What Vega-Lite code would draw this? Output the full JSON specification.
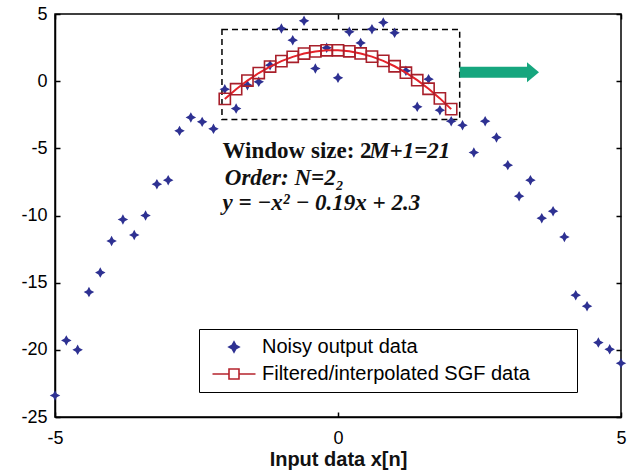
{
  "$schema": "https://vega.github.io/schema/vega-lite/v6.json",
  "width": 566,
  "height": 403,
  "autosize": {"type": "none"},
  "padding": {"left": 55, "top": 14, "right": 16, "bottom": 57},
  "background": "white",
  "config": {
    "view": {"stroke": "black", "strokeWidth": 1.5},
    "axis": {
      "grid": false,
      "domainColor": "black",
      "domainWidth": 1.5,
      "tickColor": "black",
      "tickWidth": 1.5,
      "tickSize": -5,
      "labelColor": "black",
      "labelFont": "Liberation Sans",
      "labelFontSize": 18,
      "labelFlush": false,
      "labelPadding": 13,
      "titleFont": "Liberation Sans",
      "titleFontSize": 20,
      "titleFontWeight": "bold",
      "titleColor": "#111111"
    }
  },
  "datasets": {
    "noisy": [
      {"x": -5.0, "y": -23.4}, {"x": -4.8, "y": -19.3}, {"x": -4.6, "y": -20.0},
      {"x": -4.4, "y": -15.7}, {"x": -4.2, "y": -14.25}, {"x": -4.0, "y": -11.9},
      {"x": -3.8, "y": -10.3}, {"x": -3.6, "y": -11.45}, {"x": -3.4, "y": -10.0},
      {"x": -3.2, "y": -7.67}, {"x": -3.0, "y": -7.37}, {"x": -2.8, "y": -3.7},
      {"x": -2.6, "y": -2.7}, {"x": -2.4, "y": -3.03}, {"x": -2.2, "y": -3.55},
      {"x": -2.0, "y": -0.6}, {"x": -1.8, "y": -2.04}, {"x": -1.6, "y": -0.3},
      {"x": -1.4, "y": -0.05}, {"x": -1.2, "y": 1.19}, {"x": -1.0, "y": 3.92},
      {"x": -0.8, "y": 3.05}, {"x": -0.6, "y": 4.49}, {"x": -0.4, "y": 0.94},
      {"x": -0.2, "y": 2.48}, {"x": 0.0, "y": 0.25}, {"x": 0.2, "y": 3.67},
      {"x": 0.4, "y": 2.85}, {"x": 0.6, "y": 3.87}, {"x": 0.8, "y": 4.37},
      {"x": 1.0, "y": 3.6}, {"x": 1.2, "y": 0.77}, {"x": 1.4, "y": -1.91},
      {"x": 1.6, "y": 0.15}, {"x": 1.8, "y": -2.16}, {"x": 2.0, "y": -2.98},
      {"x": 2.2, "y": -3.28}, {"x": 2.4, "y": -5.31}, {"x": 2.6, "y": -2.98},
      {"x": 2.8, "y": -4.19}, {"x": 3.0, "y": -6.25}, {"x": 3.2, "y": -8.56},
      {"x": 3.4, "y": -7.37}, {"x": 3.6, "y": -10.2}, {"x": 3.8, "y": -9.68},
      {"x": 4.0, "y": -11.6}, {"x": 4.2, "y": -15.93}, {"x": 4.4, "y": -16.75},
      {"x": 4.6, "y": -19.46}, {"x": 4.8, "y": -19.96}, {"x": 5.0, "y": -21.0}
    ],
    "sgf": [
      {"x": -2.0, "y": -1.32}, {"x": -1.8, "y": -0.598}, {"x": -1.6, "y": 0.044},
      {"x": -1.4, "y": 0.606}, {"x": -1.2, "y": 1.088}, {"x": -1.0, "y": 1.49},
      {"x": -0.8, "y": 1.812}, {"x": -0.6, "y": 2.054}, {"x": -0.4, "y": 2.216},
      {"x": -0.2, "y": 2.298}, {"x": 0.0, "y": 2.3}, {"x": 0.2, "y": 2.222},
      {"x": 0.4, "y": 2.064}, {"x": 0.6, "y": 1.826}, {"x": 0.8, "y": 1.508},
      {"x": 1.0, "y": 1.11}, {"x": 1.2, "y": 0.632}, {"x": 1.4, "y": 0.074},
      {"x": 1.6, "y": -0.564}, {"x": 1.8, "y": -1.282}, {"x": 2.0, "y": -2.08}
    ]
  },
  "layer": [
    {
      "description": "Dashed window box; also carries the top and right frame ticks",
      "data": {"values": [{}]},
      "mark": {"type": "rect", "fill": "transparent", "stroke": "black", "strokeWidth": 1.5, "strokeDash": [6, 4]},
      "encoding": {
        "x": {"datum": -2.05, "type": "quantitative", "scale": {"domain": [-5, 5], "nice": false},
              "axis": {"orient": "top", "labels": false, "title": null, "values": [-5, 0, 5], "domain": false}},
        "x2": {"datum": 2.15},
        "y": {"datum": 3.85, "type": "quantitative", "scale": {"domain": [-25, 5], "nice": false},
              "axis": {"orient": "right", "labels": false, "title": null, "values": [-25, -20, -15, -10, -5, 0, 5], "domain": false}},
        "y2": {"datum": -2.85}
      }
    },
    {
      "data": {"name": "noisy"},
      "mark": {"type": "point", "filled": true, "opacity": 1, "size": 110, "strokeWidth": 0,
               "shape": "M0,-1L0.35,-0.35L1,0L0.35,0.35L0,1L-0.35,0.35L-1,0L-0.35,-0.35Z"},
      "encoding": {
        "x": {"field": "x", "type": "quantitative", "scale": {"domain": [-5, 5], "nice": false},
              "axis": {"orient": "bottom", "values": [-5, 0, 5], "title": "Input data x[n]", "titlePadding": 2, "labelPadding": 17,
                       "labelExpr": "datum.value < 0 ? '-' + abs(datum.value) : '' + datum.value"}},
        "y": {"field": "y", "type": "quantitative", "scale": {"domain": [-25, 5], "nice": false},
              "axis": {"orient": "left", "values": [-25, -20, -15, -10, -5, 0, 5], "title": null,
                       "labelExpr": "datum.value < 0 ? '-' + abs(datum.value) : '' + datum.value"}},
        "color": {
          "datum": "Noisy output data",
          "type": "nominal",
          "scale": {"domain": ["Noisy output data", "Filtered/interpolated SGF data"], "range": ["#2e3192", "#b5232d"]},
          "legend": {
            "title": null,
            "orient": "none",
            "legendX": 144,
            "legendY": 315,
            "direction": "vertical",
            "padding": 8,
            "strokeColor": "black",
            "fillColor": "white",
            "symbolSize": 100,
            "symbolOffset": 17,
            "labelFont": "Liberation Sans",
            "labelFontSize": 20,
            "labelColor": "black",
            "labelLimit": 600,
            "labelOffset": 18,
            "rowPadding": 7,
            "labelExpr": "datum.label + '\u00a0\u00a0\u00a0\u00a0\u00a0\u00a0\u00a0\u200b'",
            "encoding": {
              "symbols": {
                "shape": {"value": {"expr": "datum.value === 'Noisy output data' ? 'M0,-1L0.35,-0.35L1,0L0.35,0.35L0,1L-0.35,0.35L-1,0L-0.35,-0.35Z' : 'M-4.3,0H-1M1,0H4.3M-1,-1H1V1H-1Z'"}},
                "fillOpacity": {"value": {"expr": "datum.value === 'Noisy output data' ? 1 : 0"}},
                "stroke": {"value": {"expr": "datum.value === 'Noisy output data' ? '#2e3192' : '#b5232d'"}},
                "strokeWidth": {"value": 1.6},
                "opacity": {"value": 1}
              }
            }
          }
        }
      }
    },
    {
      "data": {"name": "sgf"},
      "mark": {"type": "line", "color": "#e4222a", "strokeWidth": 2},
      "encoding": {
        "x": {"field": "x", "type": "quantitative", "axis": null},
        "y": {"field": "y", "type": "quantitative", "axis": null}
      }
    },
    {
      "data": {"name": "sgf"},
      "mark": {"type": "point", "shape": "square", "filled": false, "opacity": 1, "size": 125, "stroke": "#a81f2a", "strokeWidth": 1.6},
      "encoding": {
        "x": {"field": "x", "type": "quantitative", "axis": null},
        "y": {"field": "y", "type": "quantitative", "axis": null}
      }
    },
    {
      "description": "Arrow shaft",
      "data": {"values": [{}]},
      "mark": {"type": "rule", "color": "#16a67e", "strokeWidth": 11, "strokeCap": "butt"},
      "encoding": {
        "x": {"datum": 2.15, "type": "quantitative", "axis": null},
        "x2": {"datum": 3.37},
        "y": {"datum": 0.67, "type": "quantitative", "axis": null}
      }
    },
    {
      "description": "Arrow head",
      "data": {"values": [{}]},
      "mark": {"type": "point", "filled": true, "opacity": 1, "color": "#16a67e", "size": 400, "shape": "M-0.6,-1L0.6,0L-0.6,1Z"},
      "encoding": {
        "x": {"datum": 3.445, "type": "quantitative", "axis": null},
        "y": {"datum": 0.67, "type": "quantitative", "axis": null}
      }
    },
    {
      "data": {"values": [{}]},
      "mark": {"type": "text", "text": "Window size: 2", "font": "Liberation Serif", "fontSize": 23, "fontWeight": "bold", "align": "left", "baseline": "alphabetic", "color": "#111111"},
      "encoding": {
        "x": {"datum": -2.04, "type": "quantitative", "axis": null},
        "y": {"datum": -5.73, "type": "quantitative", "axis": null}
      }
    },
    {
      "data": {"values": [{}]},
      "mark": {"type": "text", "text": "M+1=21", "font": "Liberation Serif", "fontSize": 23, "fontWeight": "bold", "fontStyle": "italic", "align": "left", "baseline": "alphabetic", "color": "#111111"},
      "encoding": {
        "x": {"datum": 0.55, "type": "quantitative", "axis": null},
        "y": {"datum": -5.73, "type": "quantitative", "axis": null}
      }
    },
    {
      "data": {"values": [{}]},
      "mark": {"type": "text", "text": "Order: N=2₂", "font": "Liberation Serif", "fontSize": 23, "fontWeight": "bold", "fontStyle": "italic", "align": "left", "baseline": "alphabetic", "color": "#111111"},
      "encoding": {
        "x": {"datum": -2.0, "type": "quantitative", "axis": null},
        "y": {"datum": -7.74, "type": "quantitative", "axis": null}
      }
    },
    {
      "data": {"values": [{}]},
      "mark": {"type": "text", "text": "y = −x² − 0.19x + 2.3", "font": "Liberation Serif", "fontSize": 23, "fontWeight": "bold", "fontStyle": "italic", "align": "left", "baseline": "alphabetic", "color": "#111111"},
      "encoding": {
        "x": {"datum": -2.04, "type": "quantitative", "axis": null},
        "y": {"datum": -9.6, "type": "quantitative", "axis": null}
      }
    }
  ]
}
